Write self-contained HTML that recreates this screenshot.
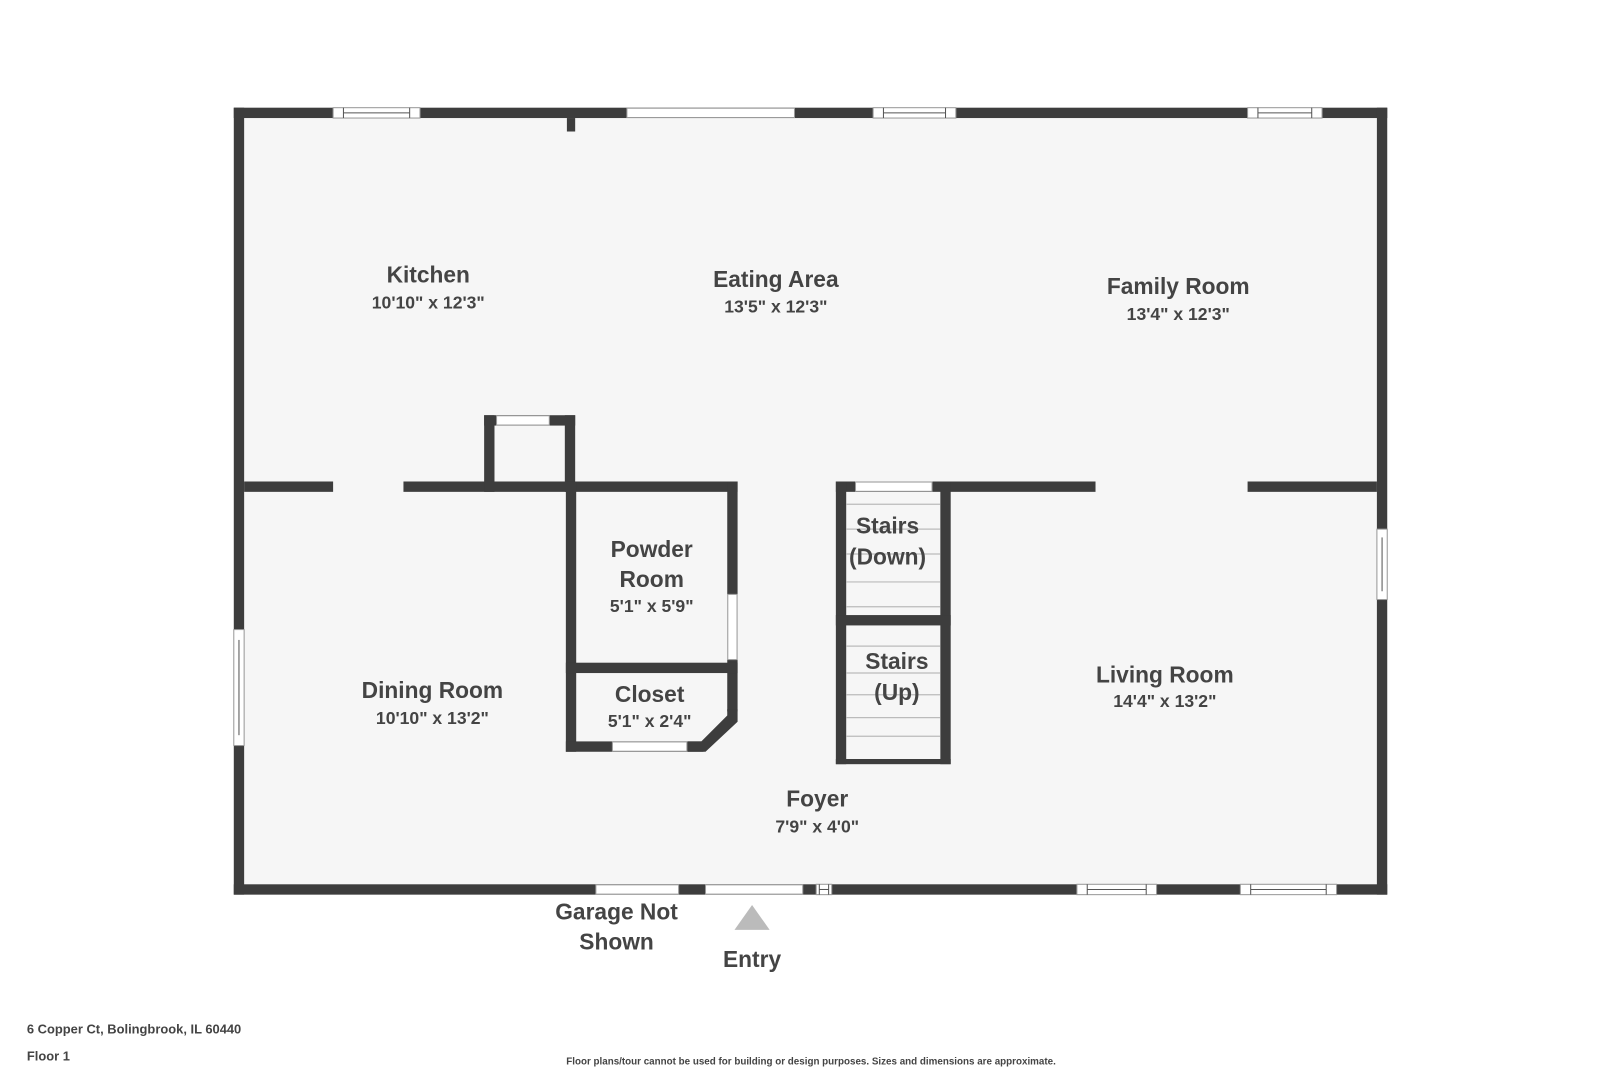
<!DOCTYPE html>
<html><head><meta charset="utf-8"><style>
html,body{margin:0;padding:0;background:#fff;}
svg{display:block;}
text{font-family:"Liberation Sans",sans-serif;font-weight:bold;fill:#444;text-anchor:middle;}
</style></head><body>
<svg width="1620" height="1080" viewBox="0 0 1566 1043" preserveAspectRatio="none" xmlns="http://www.w3.org/2000/svg">
<rect x="0" y="0" width="1566" height="1043" fill="#fff"/>
<rect x="231" y="109" width="1105" height="750" fill="#f6f6f6"/>
<g fill="#3d3d3d">
<rect x="226" y="104" width="1115" height="10"/>
<rect x="226" y="854" width="1115" height="10"/>
<rect x="226" y="104" width="10" height="760"/>
<rect x="1331" y="104" width="10" height="760"/>
<rect x="548" y="114" width="8" height="13"/>
<rect x="236" y="465" width="86" height="10"/>
<rect x="390" y="465" width="323" height="10"/>
<rect x="808" y="465" width="251" height="10"/>
<rect x="1206" y="465" width="125" height="10"/>
<rect x="468" y="401" width="10" height="74"/>
<rect x="546" y="401" width="10" height="74"/>
<rect x="468" y="401" width="88" height="10"/>
<rect x="547" y="465" width="10" height="261"/>
<rect x="703" y="465" width="10" height="109"/>
<rect x="703" y="637" width="10" height="50"/>
<rect x="547" y="640" width="166" height="10"/>
<rect x="547" y="716" width="133" height="10"/>
<polygon points="713,685 713,697 682,726 665,726 665,716 678,716 703,691 703,685"/>
<rect x="808" y="465" width="10" height="273"/>
<rect x="909" y="465" width="10" height="273"/>
<rect x="808" y="594" width="111" height="10"/>
<rect x="808" y="733" width="111" height="5"/>
</g>
<g stroke="#bbb" stroke-width="1.2">
<line x1="818" y1="487" x2="909" y2="487"/>
<line x1="818" y1="511" x2="909" y2="511"/>
<line x1="818" y1="535" x2="909" y2="535"/>
<line x1="818" y1="562" x2="909" y2="562"/>
<line x1="818" y1="586" x2="909" y2="586"/>
<line x1="818" y1="624" x2="909" y2="624"/>
<line x1="818" y1="650" x2="909" y2="650"/>
<line x1="818" y1="671" x2="909" y2="671"/>
<line x1="818" y1="693" x2="909" y2="693"/>
<line x1="818" y1="711" x2="909" y2="711"/>
</g>
<g fill="#fff" stroke="#999" stroke-width="1">
<rect x="322" y="104" width="84" height="10"/>
<rect x="606" y="104.5" width="162" height="9"/>
<rect x="844" y="104" width="80" height="10"/>
<rect x="1206" y="104" width="72" height="10"/>
<rect x="480" y="401.5" width="51" height="9"/>
<rect x="827" y="465.5" width="74" height="9"/>
<rect x="703.5" y="574" width="9" height="63"/>
<rect x="592" y="716.5" width="72" height="9"/>
<rect x="226" y="608" width="10" height="112"/>
<rect x="1331" y="511" width="10" height="68"/>
<rect x="576" y="854.5" width="80" height="9"/>
<rect x="682" y="854.5" width="94" height="9"/>
<rect x="789" y="854" width="15" height="10"/>
<rect x="1041" y="854" width="77" height="10"/>
<rect x="1199" y="854" width="93" height="10"/>
</g>
<g stroke="#555" stroke-width="1" fill="none">
<line x1="332" y1="109" x2="396" y2="109"/><line x1="332" y1="104" x2="332" y2="114"/><line x1="396" y1="104" x2="396" y2="114"/>
<line x1="854" y1="109" x2="914" y2="109"/><line x1="854" y1="104" x2="854" y2="114"/><line x1="914" y1="104" x2="914" y2="114"/>
<line x1="1216" y1="109" x2="1268" y2="109"/><line x1="1216" y1="104" x2="1216" y2="114"/><line x1="1268" y1="104" x2="1268" y2="114"/>
<line x1="231" y1="618" x2="231" y2="710"/>
<line x1="1336" y1="519" x2="1336" y2="571"/>
<line x1="1051" y1="859" x2="1108" y2="859"/><line x1="1051" y1="854" x2="1051" y2="864"/><line x1="1108" y1="854" x2="1108" y2="864"/>
<line x1="1209" y1="859" x2="1282" y2="859"/><line x1="1209" y1="854" x2="1209" y2="864"/><line x1="1282" y1="854" x2="1282" y2="864"/>
<line x1="792" y1="859" x2="801" y2="859"/><line x1="792" y1="854" x2="792" y2="864"/><line x1="801" y1="854" x2="801" y2="864"/>
</g>
<polygon points="727,874 744,898 710,898" fill="#bbb"/>
<g font-size="22">
<text x="414" y="273">Kitchen</text>
<text x="750" y="277">Eating Area</text>
<text x="1139" y="284">Family Room</text>
<text x="630" y="538">Powder</text>
<text x="630" y="567">Room</text>
<text x="628" y="678">Closet</text>
<text x="858" y="515">Stairs</text>
<text x="858" y="545">(Down)</text>
<text x="867" y="646">Stairs</text>
<text x="867" y="676">(Up)</text>
<text x="418" y="674">Dining Room</text>
<text x="1126" y="659">Living Room</text>
<text x="790" y="779">Foyer</text>
<text x="596" y="888">Garage Not</text>
<text x="596" y="917">Shown</text>
<text x="727" y="934">Entry</text>
</g>
<g font-size="17">
<text x="414" y="298">10'10" x 12'3"</text>
<text x="750" y="302">13'5" x 12'3"</text>
<text x="1139" y="309">13'4" x 12'3"</text>
<text x="630" y="591">5'1" x 5'9"</text>
<text x="628" y="702">5'1" x 2'4"</text>
<text x="418" y="699">10'10" x 13'2"</text>
<text x="1126" y="683">14'4" x 13'2"</text>
<text x="790" y="804">7'9" x 4'0"</text>
</g>
<text x="26" y="998" font-size="12.5" style="text-anchor:start">6 Copper Ct, Bolingbrook, IL 60440</text>
<text x="26" y="1024" font-size="12.5" style="text-anchor:start">Floor 1</text>
<text x="784" y="1028" font-size="9.5">Floor plans/tour cannot be used for building or design purposes. Sizes and dimensions are approximate.</text>
</svg>
</body></html>
